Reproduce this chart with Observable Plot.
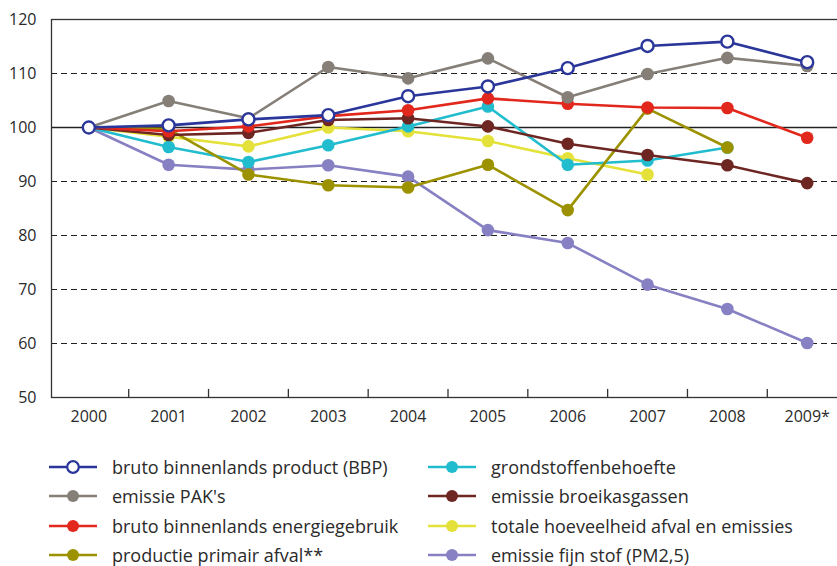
<!DOCTYPE html>
<html>
<head>
<meta charset="utf-8">
<script src="https://cdn.jsdelivr.net/npm/d3@7"></script>
<script src="https://cdn.jsdelivr.net/npm/@observablehq/plot@0.6"></script>
<style>
  html, body { margin: 0; padding: 0; background: #fff; overflow: hidden; width: 837px; }
  #chart svg { display: block; }
  .legend { display: grid; grid-template-columns: 379px 400px; grid-auto-rows: 29.5px; padding-left: 49px;
            font-family: "Open Sans", sans-serif; font-size: 18px; line-height: 1; color: #2a2a2a; }
  .item { display: flex; align-items: center; white-space: nowrap; }
  .item svg { margin-right: 15px; flex: none; }
</style>
</head>
<body>
<div id="chart"></div>
<div class="legend" id="legend"></div>
<script>
const years = [2000, 2001, 2002, 2003, 2004, 2005, 2006, 2007, 2008, 2009];
const yearLabels = ["2000", "2001", "2002", "2003", "2004", "2005", "2006", "2007", "2008", "2009*"];
const boundaries = [2000.5, 2001.5, 2002.5, 2003.5, 2004.5, 2005.5, 2006.5, 2007.5, 2008.5];
const yTicks = [50, 60, 70, 80, 90, 100, 110, 120];
const dashedGrid = [60, 70, 80, 90, 110];

const seriesNames = [
  "bruto binnenlands product (BBP)",
  "emissie PAK's",
  "bruto binnenlands energiegebruik",
  "productie primair afval**",
  "grondstoffenbehoefte",
  "emissie broeikasgassen",
  "totale hoeveelheid afval en emissies",
  "emissie fijn stof (PM2,5)"
];
const seriesColors = ["#2a369a", "#857f78", "#e2281d", "#9c9200", "#21bdcf", "#6e2623", "#e4e23a", "#8780c3"];

const bbp        = [100, 100.4, 101.5, 102.3, 105.8, 107.6, 111.0, 115.1, 115.9, 112.1];
const pak        = [100, 104.9, 101.7, 111.2, 109.1, 112.8, 105.6, 109.9, 112.9, 111.4];
const energie    = [100, 99.3, 100.2, 102.1, 103.2, 105.4, 104.4, 103.7, 103.6, 98.1];
const primair    = [100, 99.7, 91.3, 89.3, 88.9, 93.1, 84.7, 103.5, 96.3, null];
const grondstof  = [100, 96.4, 93.6, 96.7, 100.2, 103.9, 93.1, 93.9, 96.3, null];
const broeikas   = [100, 98.6, 99.0, 101.4, 101.7, 100.2, 97.0, 94.9, 93.0, 89.7];
const totaal     = [100, 98.3, 96.5, 100.0, 99.3, 97.5, 94.3, 91.3, null, null];
const fijnstof   = [100, 93.1, 92.2, 93.0, 90.9, 81.0, 78.6, 70.9, 66.4, 60.1];

const seriesValues = [bbp, pak, energie, primair, grondstof, broeikas, totaal, fijnstof];
// drawing order (last on top)
const drawOrder = [7, 6, 4, 3, 5, 2, 1, 0];

const marks = [
  Plot.ruleY(dashedGrid, {stroke: "#222", strokeWidth: 1.2, strokeDasharray: "6,4"}),
  Plot.ruleY([100], {stroke: "#222", strokeWidth: 1.6}),
  Plot.frame({stroke: "#333", strokeWidth: 1.3}),
  Plot.ruleX(boundaries, {y1: 50, y2: 51.5, stroke: "#333", strokeWidth: 1.3}),
  Plot.axisY({ticks: yTicks, tickSize: 0, tickPadding: 15, fontSize: 16, fill: "#2a2a2a", label: null}),
  Plot.axisX({ticks: years, tickSize: 0, tickPadding: 13, fontSize: 16, fill: "#2a2a2a", label: null,
              tickFormat: (d) => yearLabels[years.indexOf(d)]})
];

for (const i of drawOrder) {
  const pts = years.map((yr, j) => ({year: yr, value: seriesValues[i][j]})).filter(d => d.value != null);
  const color = seriesColors[i];
  marks.push(Plot.line(pts, {x: "year", y: "value", stroke: color, strokeWidth: 2.6}));
  if (i === 0) {
    marks.push(Plot.dot(pts, {x: "year", y: "value", r: 6, fill: "white", stroke: color, strokeWidth: 2.4}));
  } else {
    marks.push(Plot.dot(pts, {x: "year", y: "value", r: 6.3, fill: color, stroke: "none"}));
  }
}

const chart = Plot.plot({
  width: 840,
  height: 452,
  marginLeft: 51,
  marginRight: 0,
  marginTop: 19,
  marginBottom: 55,
  style: {fontFamily: "'Open Sans', sans-serif", maxWidth: "none", overflow: "visible", background: "white"},
  x: {type: "linear", domain: [2000, 2009], range: [88.3, 806.7], label: null},
  y: {domain: [50, 120], label: null},
  marks
});
document.getElementById("chart").appendChild(chart);

// legend: two columns, column-major order as in the reference
const legend = document.getElementById("legend");
const order = [0, 4, 1, 5, 2, 6, 3, 7];
for (const i of order) {
  const item = document.createElement("div");
  item.className = "item";
  const open = i === 0;
  item.innerHTML = `<svg width="48" height="16"><line x1="0" y1="8" x2="48" y2="8" stroke="${seriesColors[i]}" stroke-width="2.6"/>` +
    (open ? `<circle cx="24" cy="8" r="5.8" fill="white" stroke="${seriesColors[i]}" stroke-width="2.2"/>`
          : `<circle cx="24" cy="8" r="6" fill="${seriesColors[i]}"/>`) + `</svg><span>${seriesNames[i]}</span>`;
  legend.appendChild(item);
}
</script>
</body>
</html>
